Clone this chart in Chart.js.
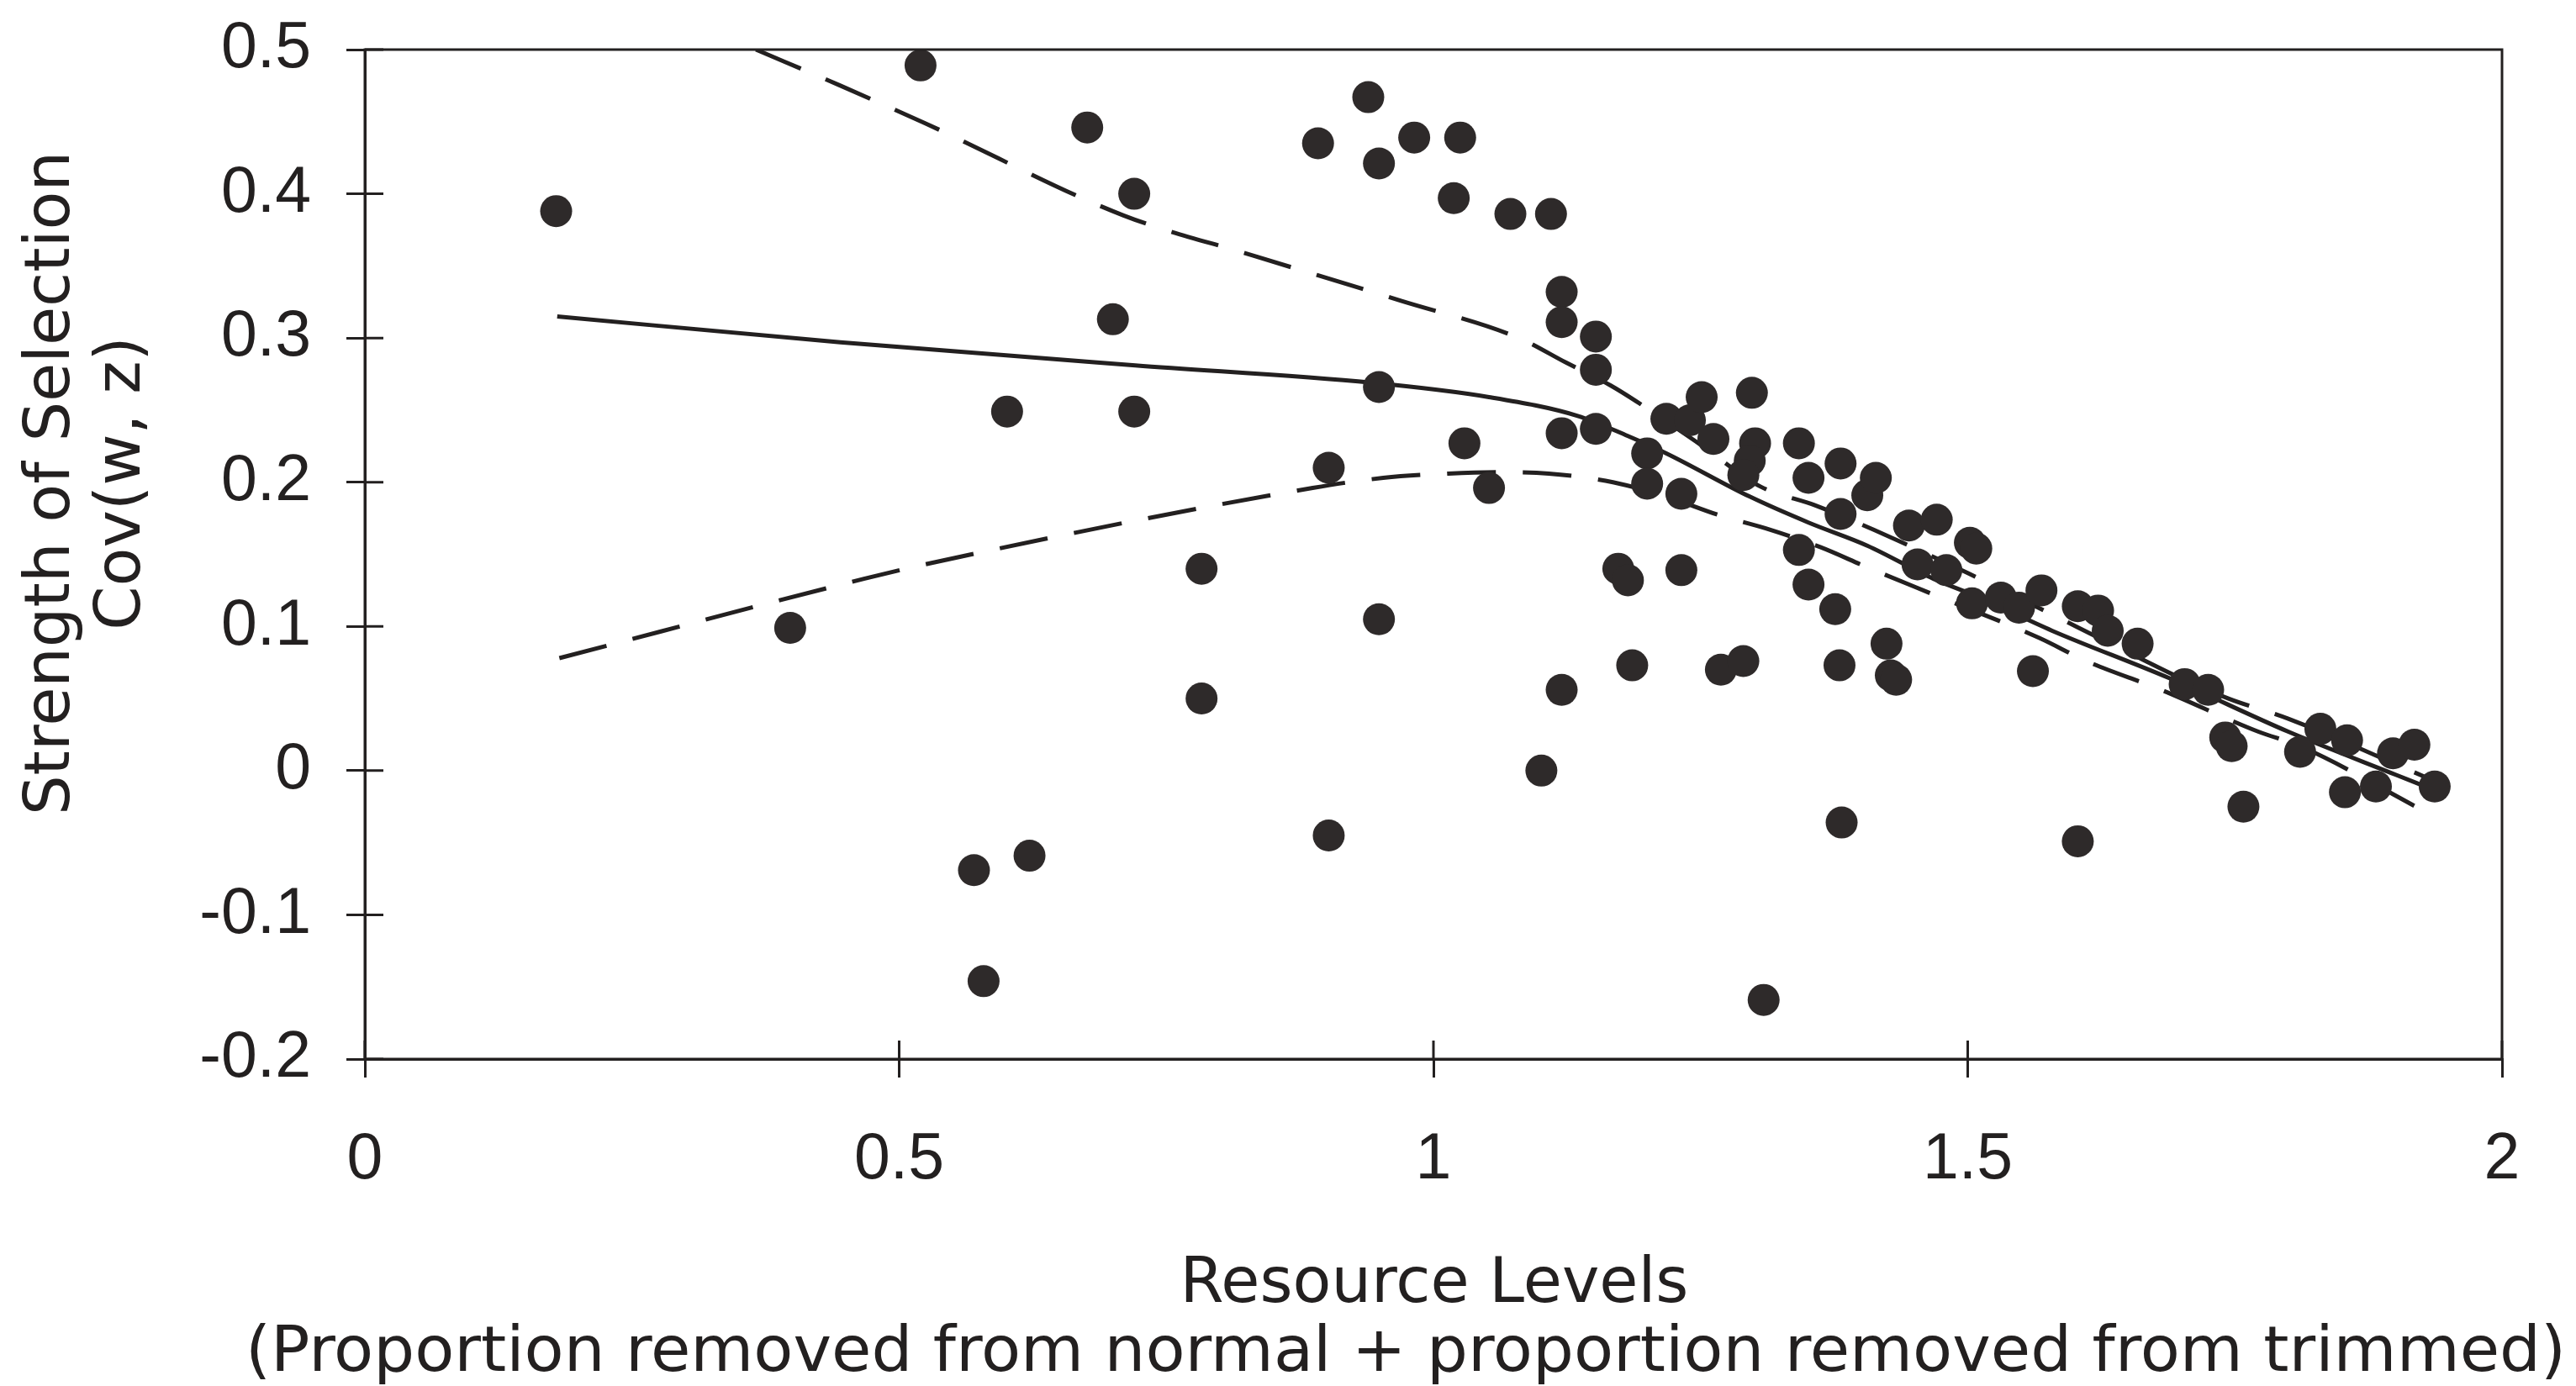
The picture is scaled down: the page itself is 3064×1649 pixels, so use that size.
<!DOCTYPE html>
<html>
<head>
<meta charset="utf-8">
<script src="https://cdn.jsdelivr.net/npm/chart.js@4.4.0/dist/chart.umd.min.js"></script>
<style>
html, body { margin: 0; padding: 0; background: #ffffff; }
canvas { display: block; }
</style>
</head>
<body>
<canvas id="chart" width="3064" height="1649"></canvas>
<script>
// ---- Data ----
const obsX = [0.179, 0.398, 0.52, 0.57, 0.579, 0.601, 0.622, 0.676, 0.70, 0.72, 0.72, 0.783, 0.783,
  0.892, 0.902, 0.902, 0.939, 0.949, 0.949, 0.949, 0.982, 1.019, 1.025, 1.029, 1.052, 1.072, 1.101,
  1.11, 1.12, 1.12, 1.12, 1.12, 1.152, 1.152, 1.152, 1.173, 1.182, 1.186, 1.2, 1.2, 1.218, 1.24,
  1.232, 1.232, 1.251, 1.262, 1.269, 1.29, 1.298, 1.301, 1.296, 1.29, 1.309, 1.342, 1.351, 1.342,
  1.351, 1.376, 1.381, 1.381, 1.38, 1.382, 1.406, 1.414, 1.424, 1.428, 1.433, 1.445, 1.453, 1.471,
  1.48, 1.502, 1.508, 1.504, 1.531, 1.548, 1.561, 1.569, 1.603, 1.603, 1.622, 1.631, 1.659, 1.703,
  1.725, 1.741, 1.747, 1.758, 1.811, 1.83, 1.855, 1.853, 1.882, 1.898, 1.918, 1.937];
const obsY = [0.388, 0.099, 0.489, -0.069, -0.146, 0.249, -0.059, 0.446, 0.313, 0.40, 0.249, 0.14, 0.05,
  0.435, 0.21, -0.045, 0.467, 0.421, 0.266, 0.105, 0.439, 0.397, 0.439, 0.227, 0.196, 0.386, 0.0,
  0.386, 0.332, 0.311, 0.234, 0.056, 0.301, 0.278, 0.237, 0.14, 0.132, 0.073, 0.22, 0.199, 0.244, 0.243,
  0.192, 0.139, 0.259, 0.23, 0.07, 0.076, 0.262, 0.227, 0.215, 0.205, -0.159, 0.227, 0.203, 0.153,
  0.129, 0.112, 0.213, 0.178, 0.073, -0.036, 0.191, 0.203, 0.088, 0.066, 0.063, 0.17, 0.143, 0.174,
  0.139, 0.158, 0.154, 0.116, 0.12, 0.113, 0.069, 0.125, -0.049, 0.114, 0.111, 0.097, 0.088, 0.06,
  0.056, 0.023, 0.017, -0.025, 0.013, 0.029, 0.021, -0.015, -0.011, 0.012, 0.018, -0.011];

const fitX = [0.18, 0.445, 0.721, 0.942, 1.052, 1.135, 1.182, 1.218, 1.296, 1.351, 1.406, 1.468,
  1.508, 1.579, 1.689, 1.8, 1.901, 1.935];
const fitY = [0.315, 0.297, 0.281, 0.269, 0.259, 0.246, 0.232, 0.220, 0.19, 0.172, 0.156, 0.133,
  0.121, 0.097, 0.064, 0.027, -0.003, -0.013];

const upperX = [0.366, 0.445, 0.524, 0.71, 0.832, 0.969, 1.08, 1.124, 1.166, 1.19, 1.25, 1.306,
  1.357, 1.412, 1.5, 1.661, 1.694, 1.744, 1.8, 1.93];
const upperY = [0.5, 0.475, 0.449, 0.385, 0.357, 0.326, 0.300, 0.283, 0.267, 0.256, 0.226, 0.197,
  0.184, 0.167, 0.137, 0.078, 0.066, 0.05, 0.036, -0.005];

const lowerX = [0.182, 0.467, 0.524, 0.887, 0.953, 1.014, 1.063, 1.108, 1.168, 1.218, 1.268, 1.311,
  1.362, 1.406, 1.475, 1.567, 1.611, 1.681, 1.772, 1.811, 1.932];
const lowerY = [0.078, 0.133, 0.143, 0.196, 0.203, 0.206, 0.207, 0.206, 0.2, 0.19, 0.177, 0.168,
  0.155, 0.141, 0.12, 0.092, 0.076, 0.056, 0.027, 0.017, -0.03];

const xTickValues = [0, 0.5, 1, 1.5, 2];
const xTickLabels = ['0', '0.5', '1', '1.5', '2'];
const yTickValues = [-0.2, -0.1, 0, 0.1, 0.2, 0.3, 0.4, 0.5];
const yTickLabels = ['-0.2', '-0.1', '0', '0.1', '0.2', '0.3', '0.4', '0.5'];

const xTitle = ['Resource Levels', '(Proportion removed from normal + proportion removed from trimmed)'];
const yTitle = ['Strength of Selection', 'Cov(w, z)'];

// ---- Styling ----
const INK = '#232020';
const DOT = '#2e2a2a';
const TITLE_FONT = 'DejaVu Sans';
const TICK_FONT = 'Liberation Sans';
const TICK_LEN = 22;

const zip = (xs, ys) => xs.map((x, i) => ({ x: x, y: ys[i] }));
const labelFor = (vals, labels) => (v) => {
  const i = vals.findIndex(t => Math.abs(t - v) < 1e-9);
  return i >= 0 ? labels[i] : '';
};

const framePlugin = {
  id: 'frame',
  afterDraw(chart) {
    const { ctx, chartArea: a, scales: { x, y } } = chart;
    ctx.save();
    ctx.strokeStyle = INK;
    ctx.lineWidth = 3;
    ctx.strokeRect(a.left, a.top, a.right - a.left, a.bottom - a.top);
    ctx.beginPath();
    x.ticks.forEach(t => {
      const px = x.getPixelForValue(t.value);
      ctx.moveTo(px, a.bottom);
      ctx.lineTo(px, a.bottom - TICK_LEN);
    });
    y.ticks.forEach(t => {
      const py = y.getPixelForValue(t.value);
      ctx.moveTo(a.left, py);
      ctx.lineTo(a.left + TICK_LEN, py);
    });
    ctx.stroke();

    ctx.fillStyle = INK;
    ctx.textAlign = 'center';
    ctx.textBaseline = 'middle';
    ctx.font = '75px "' + TITLE_FONT + '"';

    // x axis title (two lines); the second line is widened to the original's span
    ctx.fillText(xTitle[0], 1706, 1530);
    const w2 = ctx.measureText(xTitle[1]).width;
    ctx.save();
    ctx.translate(1672, 1612);
    ctx.scale(2760 / w2, 1);
    ctx.fillText(xTitle[1], 0, 0);
    ctx.restore();

    // y axis title (two lines, rotated)
    ctx.translate(63, 575);
    ctx.rotate(-Math.PI / 2);
    yTitle.forEach((s, i) => ctx.fillText(s, 0, i * 84));
    ctx.restore();
  }
};

const lineStyle = {
  type: 'line',
  showLine: true,
  pointRadius: 0,
  pointHoverRadius: 0,
  borderColor: INK,
  borderWidth: 5,
  fill: false,
  cubicInterpolationMode: 'monotone'
};

new Chart(document.getElementById('chart'), {
  type: 'scatter',
  data: {
    datasets: [
      Object.assign({}, lineStyle, { label: 'Fit', data: zip(fitX, fitY), order: 2 }),
      Object.assign({}, lineStyle, { label: 'Upper', data: zip(upperX, upperY), borderDash: [58, 32], order: 2 }),
      Object.assign({}, lineStyle, { label: 'Lower', data: zip(lowerX, lowerY), borderDash: [58, 32], order: 2 }),
      {
        label: 'Observed',
        data: zip(obsX, obsY),
        pointRadius: 19,
        pointHoverRadius: 19,
        pointBackgroundColor: DOT,
        pointBorderWidth: 0,
        borderColor: DOT,
        showLine: false,
        order: 1
      }
    ]
  },
  options: {
    responsive: false,
    devicePixelRatio: 1,
    animation: false,
    events: [],
    layout: { padding: { top: 59, right: 88, bottom: 0, left: 0 } },
    plugins: { legend: { display: false }, tooltip: { enabled: false } },
    scales: {
      x: {
        type: 'linear',
        min: 0, max: 2,
        afterFit(scale) { scale.height = 389; },
        ticks: {
          stepSize: 0.5,
          autoSkip: false,
          maxRotation: 0,
          padding: 53,
          color: INK,
          font: { family: TICK_FONT, size: 77 },
          callback: labelFor(xTickValues, xTickLabels)
        },
        grid: { display: true, drawOnChartArea: false, drawTicks: true, tickLength: TICK_LEN, color: INK, lineWidth: 3 },
        border: { display: true, color: INK, width: 3 },
        title: { display: false, text: xTitle }
      },
      y: {
        type: 'linear',
        min: -0.2, max: 0.5,
        afterFit(scale) { scale.width = 434; scale.paddingTop = 0; scale.paddingBottom = 0; },
        ticks: {
          stepSize: 0.1,
          autoSkip: false,
          padding: 42,
          color: INK,
          font: { family: TICK_FONT, size: 77 },
          callback: labelFor(yTickValues, yTickLabels)
        },
        grid: { display: true, drawOnChartArea: false, drawTicks: true, tickLength: TICK_LEN, color: INK, lineWidth: 3 },
        border: { display: true, color: INK, width: 3 },
        title: { display: false, text: yTitle }
      }
    }
  },
  plugins: [framePlugin]
});
</script>
</body>
</html>
